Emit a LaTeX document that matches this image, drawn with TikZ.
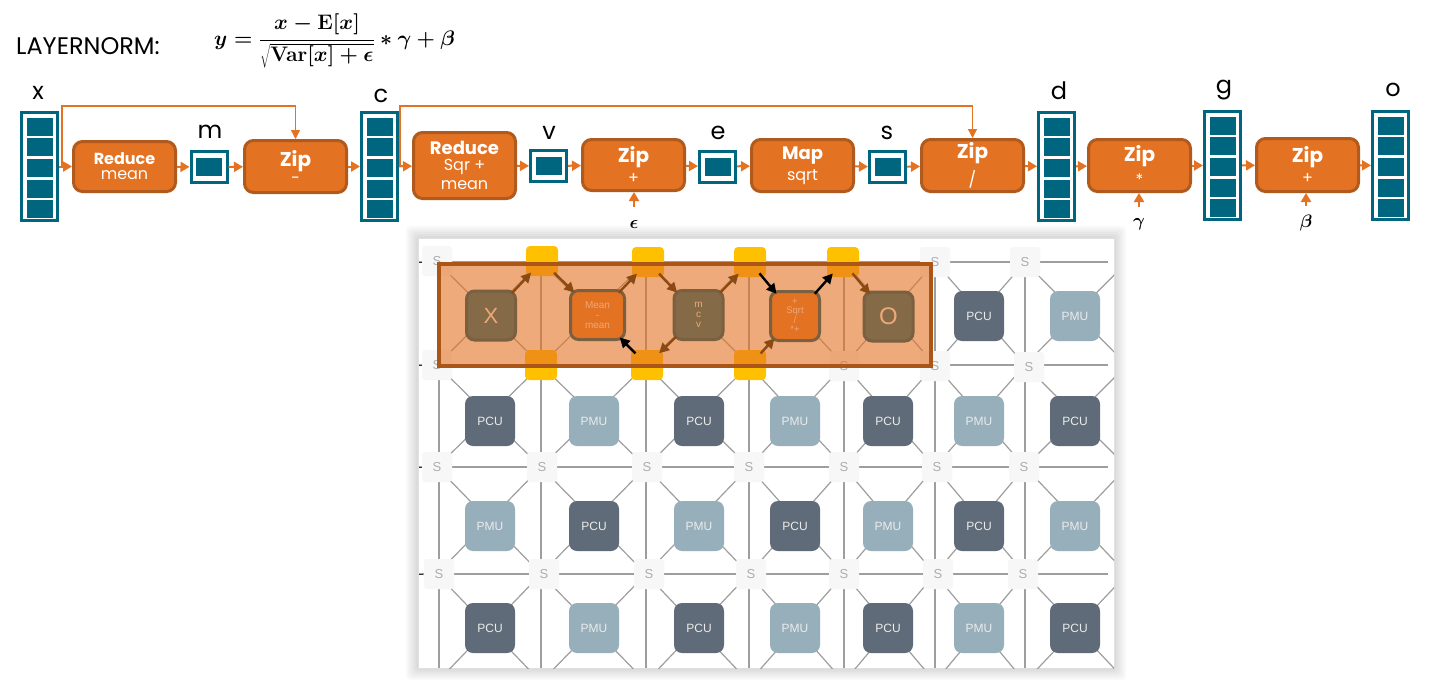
\documentclass[tikz,border=0pt]{standalone}
\usepackage{fix-cm}
\usepackage[no-math]{fontspec}
\setmainfont{Poppins}
\newfontfamily\helv{Liberation Sans}
\usetikzlibrary{arrows.meta}
\definecolor{teal}{HTML}{00667F}
\definecolor{fnorange}{HTML}{E37222}
\definecolor{fnedge}{HTML}{B05A1E}
\definecolor{selfill}{HTML}{E37222}
\definecolor{seledge}{HTML}{AA5618}
\definecolor{pcucol}{HTML}{5F6B78}
\definecolor{pmucol}{HTML}{97AFBB}
\definecolor{hlfill}{HTML}{846A46}
\definecolor{hledge}{HTML}{7A6040}
\definecolor{hltext}{HTML}{EDA878}
\definecolor{amber}{HTML}{FFC000}
\definecolor{mapbrown}{HTML}{8B4A14}
\newcommand{\fs}[1]{\fontsize{#1}{#1}\selectfont}
\tikzset{
	vecbar/.style={draw=teal,line width=3pt,fill=white,minimum width=36pt,inner sep=0pt},
	veccell/.style={fill=teal,minimum width=26pt,minimum height=18pt,inner sep=0pt},
	fnbox/.style={draw=fnedge,line width=3pt,fill=fnorange,rounded corners=9pt,minimum width=102pt,text=white,inner sep=0pt,align=center},
	flow/.style={draw=fnorange,line width=2pt,-{Triangle[length=9pt,width=10pt]}},
	skipline/.style={draw=fnorange,line width=1.3pt,-{Triangle[length=9pt,width=9pt]}},
	varname/.style={inner sep=0pt,font=\fs{24}},
	param/.style={inner sep=0pt,minimum height=34pt},
	gridline/.style={draw=black!38,line width=1.2pt},
	sw/.style={fill=black!3,rounded corners=3pt,minimum size=30pt,inner sep=0pt,text=black!32,font=\helv\fs{13}},
	ambr/.style={fill=amber,rounded corners=4pt,minimum width=32pt,minimum height=30pt,inner sep=0pt},
	tile/.style={rounded corners=8pt,minimum size=50pt,inner sep=0pt,text=white!92!black,font=\helv\fs{12}},
	pcu/.style={tile,fill=pcucol},
	pmu/.style={tile,fill=pmucol},
	hl/.style={draw=hledge,line width=3pt,fill=hlfill,rounded corners=8pt,minimum size=49pt,inner sep=0pt,text=hltext,align=center,font=\helv\fs{10}},
	mapb/.style={draw=mapbrown,line width=2.4pt,shorten <=-5pt,shorten >=-5pt,-{Triangle[length=10pt,width=10pt]}},
	mapk/.style={mapb,draw=black},
}
\newcommand{\vecstack}[3]{
	\node[vecbar,minimum height=108pt] (#1) at (#2,#3+55.5) {};
	\foreach \k/\dy in {1/15.5,2/36,3/56.5,4/78,5/98}
		\node[veccell] (#1-\k) at (#2,#3+\dy) {};
}
\newcommand{\vecone}[3]{
	\node[vecbar,minimum height=31pt] (#1) at (#2,#3) {};
	\node[veccell] (#1-in) at (#2,#3) {};
}
\begin{document}
\begin{tikzpicture}[x=1pt,y=-1pt]
	\useasboundingbox (0,0) rectangle (1435,683);
	\fill[white] (0,0) rectangle (1435,683);
	\node[anchor=west,inner sep=0pt,font=\fs{24}] (title) at (16,46) {LAYERNORM:};
	\node[anchor=west,inner sep=0pt,font=\fs{21}] (formula) at (214,41) {{\boldmath$\displaystyle y=\frac{x-\mathbf{E}[x]}{\sqrt{\mathbf{Var}[x]+\epsilon}}*\gamma+\beta$}};

	\vecstack{vx}{39.5}{111}
	\vecstack{vc}{379.5}{111}
	\vecstack{vd}{1056.5}{111}
	\vecstack{vg}{1222.5}{110}
	\vecstack{vo}{1390.5}{110}
	\vecone{vm}{209}{167}
	\vecone{vv}{548.5}{166}
	\vecone{ve}{717.5}{166.5}
	\vecone{vs}{887.5}{167}
	\node[varname] (lx) at (38,93) {x};
	\node[varname] (lm) at (210,132) {m};
	\node[varname] (lc) at (381,96) {c};
	\node[varname] (lv) at (549,133) {v};
	\node[varname] (le) at (718,133) {e};
	\node[varname] (ls) at (887,133) {s};
	\node[varname] (ld) at (1059,91) {d};
	\node[varname] (lg) at (1224,90) {g};
	\node[varname] (lo) at (1393,90) {o};

	\node[fnbox,minimum height=50pt] (fa) at (124.5,166.5) {{\bfseries\fs{16}Reduce}\\[3pt]{\fs{16}mean}};
	\node[fnbox,minimum height=52pt] (fb) at (295.5,166.5) {{\bfseries\fs{20}Zip}\\[5pt]{\fs{16}-}};
	\node[fnbox,minimum height=66pt] (fc) at (464.5,165.5) {{\bfseries\fs{18}Reduce}\\[4pt]{\fs{16}Sqr +}\\[5pt]{\fs{16}mean}};
	\node[fnbox,minimum height=51pt] (fd) at (633.5,165) {{\bfseries\fs{20}Zip}\\[5pt]{\fs{16}+}};
	\node[fnbox,minimum height=52pt] (fe) at (802.5,165.5) {{\bfseries\fs{18}Map}\\[4pt]{\fs{16}sqrt}};
	\node[fnbox,minimum height=52pt] (ff) at (972.5,165.5) {{\bfseries\fs{20}Zip}\\[5pt]{\fs{16}/}};
	\node[fnbox,minimum height=52pt] (fg) at (1139.5,165.5) {{\bfseries\fs{20}Zip}\\[5pt]{\fs{16}*}};
	\node[fnbox,minimum height=53pt] (fh) at (1307.5,165) {{\bfseries\fs{20}Zip}\\[5pt]{\fs{16}+}};

	\draw[flow] (vx) -- (fa);
	\draw[flow] (fa) -- (vm);
	\draw[flow] (vm) -- (fb);
	\draw[flow] (fb) -- (vc);
	\draw[flow] (vc) -- (fc);
	\draw[flow] (fc) -- (vv);
	\draw[flow] (vv) -- (fd);
	\draw[flow] (fd) -- (ve);
	\draw[flow] (ve) -- (fe);
	\draw[flow] (fe) -- (vs);
	\draw[flow] (vs) -- (ff);
	\draw[flow] (ff) -- (vd);
	\draw[flow] (vd) -- (fg);
	\draw[flow] (fg) -- (vg);
	\draw[flow] (vg) -- (fh);
	\draw[flow] (fh) -- (vo);

	\coordinate (topb) at (295.5,106);
	\coordinate (topf) at (972.5,106);
	\draw[skipline] ([xshift=3pt]vx.east) |- (topb) -- (fb.north);
	\draw[skipline] ([xshift=1pt]vc.east) |- (topf) -- (ff.north);

	\node[param] (peps) at (634,224) {\fs{18}{\boldmath$\epsilon$}};
	\node[param] (pgam) at (1139,224) {\fs{18}{\boldmath$\gamma$}};
	\node[param] (pbet) at (1306,223) {\fs{18}{\boldmath$\beta$}};
	\draw[flow] (peps.north) -- (peps.north |- fd.south);
	\draw[flow] (pgam.north) -- (pgam.north |- fg.south);
	\draw[flow] (pbet.north) -- (pbet.north |- fh.south);

	\foreach \s in {2,4,...,12}
		\fill[black,opacity=.025,rounded corners=4pt] (418-\s,238-\s) rectangle (1114+\s,668+\s);
	\draw[black!12,fill=white,line width=1pt] (418,238) rectangle (1114,668);
	\begin{scope}
		\clip (418,238) rectangle (1114,668);
		\foreach \y in {262,365,467,574}
			\draw[gridline] (419,\y) -- (1108,\y);
		\foreach \x in {439,541,646,749,844,935,1025}
			\draw[gridline] (\x,262) -- (\x,668);
		\foreach \yc/\ya/\yb in {316/262/365,421/365/467,526/467/574,628/574/682}
			\foreach \xa/\xb in {437/541,541/646,646/749,749/844,844/935,935/1025,1025/1127}
				\draw[gridline] (\xa,\ya) -- (\xb,\yb) (\xb,\ya) -- (\xa,\yb);
	\end{scope}
	\foreach \y in {262,365,467,574}
		\draw[black!80,line width=1pt] (419,\y) -- (423,\y);

	\foreach \r/\c/\x/\y in {1/1/437/261,1/6/935/262,1/7/1025/262,2/1/437/365,2/5/844/366,2/6/935/366,2/7/1029/367,
		3/1/437/467,3/2/542/467,3/3/647/467,3/4/749/467,3/5/844/467,3/6/937/467,3/7/1024/467,
		4/1/439/574,4/2/544/574,4/3/649/574,4/4/751/574,4/5/844/574,4/6/938/574,4/7/1023/574}
		\node[sw] (sw-\r-\c) at (\x,\y) {S};

	\foreach \c/\x in {6/979} \node[pcu] (t-1-\c) at (\x,316) {PCU};
	\foreach \c/\x in {7/1075} \node[pmu] (t-1-\c) at (\x,316) {PMU};
	\foreach \r/\y in {2/421,4/628} {
		\foreach \c/\x in {1/490,3/699,5/888,7/1075}
			\node[pcu] (t-\r-\c) at (\x,\y) {PCU};
		\foreach \c/\x in {2/594,4/795,6/979}
			\node[pmu] (t-\r-\c) at (\x,\y) {PMU};
	}
	\foreach \c/\x in {1/490,3/699,5/888,7/1075}
		\node[pmu] (t-3-\c) at (\x,526) {PMU};
	\foreach \c/\x in {2/594,4/795,6/979}
		\node[pcu] (t-3-\c) at (\x,526) {PCU};

	\node[ambr] (ya) at (542,261) {};
	\node[ambr] (yb) at (648,262) {};
	\node[ambr] (yc) at (750,262) {};
	\node[ambr] (yd) at (843,262) {};
	\node[ambr] (ye) at (541,365) {};
	\node[ambr] (yf) at (647,365) {};
	\node[ambr] (yg) at (750,365) {};

	\draw[draw=seledge,line width=4pt,fill=selfill,fill opacity=.6] (439,264) rectangle (931,366);

	\node[hl,font=\helv\fs{22}] (hx) at (491,315.5) {X};
	\node[hl,fill=fnorange,minimum width=54pt] (hm) at (597.5,315) {Mean\\-\\mean};
	\node[hl] (hc) at (698.5,315) {m\\c\\v};
	\node[hl,fill=fnorange,font=\helv\fs{9.5}] (hq) at (795,316) {+\\Sqrt\\/\\*+};
	\node[hl,font=\helv\fs{24}] (ho) at (888.5,316.5) {O};

	\draw[mapb] (hx) -- (ya);
	\draw[mapb] (ya) -- (hm);
	\draw[mapb] (hm) -- (yb);
	\draw[mapb] (yb) -- (hc);
	\draw[mapb] (hc) -- (yc);
	\draw[mapk] (yc) -- (hq);
	\draw[mapk] (hq) -- (yd);
	\draw[mapb] (yd) -- (ho);
	\draw[mapb] (yg) -- (hq);
	\draw[mapb] (hc) -- (yf);
	\draw[mapk] (yf) -- (hm);
\end{tikzpicture}
\end{document}
